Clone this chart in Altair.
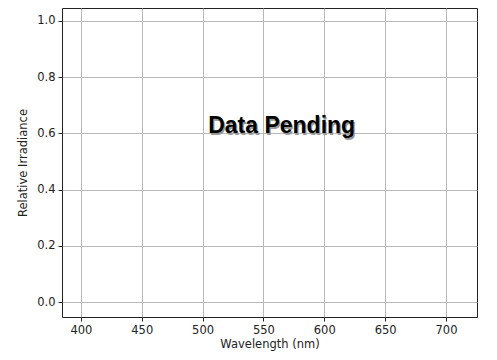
import altair as alt
import pandas as pd

x_ticks = [400, 450, 500, 550, 600, 650, 700]
y_ticks = [0.0, 0.2, 0.4, 0.6, 0.8, 1.0]
x_domain = [384.5, 725.5]
y_domain = [-0.053, 1.046]
labels = ["Data Pending"]
label_x = [565]
label_y = [0.6]

df = pd.DataFrame({"label": labels, "x": label_x, "y": label_y})

xs = alt.Scale(domain=x_domain, nice=False, zero=False)
ys = alt.Scale(domain=y_domain, nice=False, zero=False)

axis_common = dict(
    labelFont="DejaVu Sans", labelFontSize=11.5, labelColor="#222222",
    titleFont="DejaVu Sans", titleFontSize=11.5, titleFontWeight="normal", titleColor="#222222",
    tickColor="#222222", tickSize=4, domain=False,
    grid=True, gridColor="#b8b8b8", gridWidth=1,
)

base = alt.Chart(df)

shadow = base.mark_text(
    font="Liberation Sans", fontSize=23, fontWeight="bold", color="#999999",
    align="center", baseline="alphabetic", dx=1.2, dy=1.2
).encode(
    x=alt.X("x:Q", scale=xs, axis=alt.Axis(values=x_ticks, title="Wavelength (nm)", titlePadding=3, labelPadding=3, **axis_common)),
    y=alt.Y("y:Q", scale=ys, axis=alt.Axis(values=y_ticks, format=".1f", title="Relative Irradiance", titlePadding=8, labelPadding=3, **axis_common)),
    text="label:N",
)

front = base.mark_text(
    font="Liberation Sans", fontSize=23, fontWeight="bold", color="black",
    align="center", baseline="alphabetic"
).encode(
    x=alt.X("x:Q", scale=xs),
    y=alt.Y("y:Q", scale=ys),
    text="label:N",
)

chart = alt.layer(shadow, front).properties(
    width=415, height=309,
    autosize=alt.AutoSizeParams(type="none"),
    padding={"left": 54, "top": 0, "right": 12, "bottom": 35},
).configure_view(stroke="#222222", strokeWidth=1)

chart.save("out.html", embed_options={"renderer": "svg", "actions": False})
